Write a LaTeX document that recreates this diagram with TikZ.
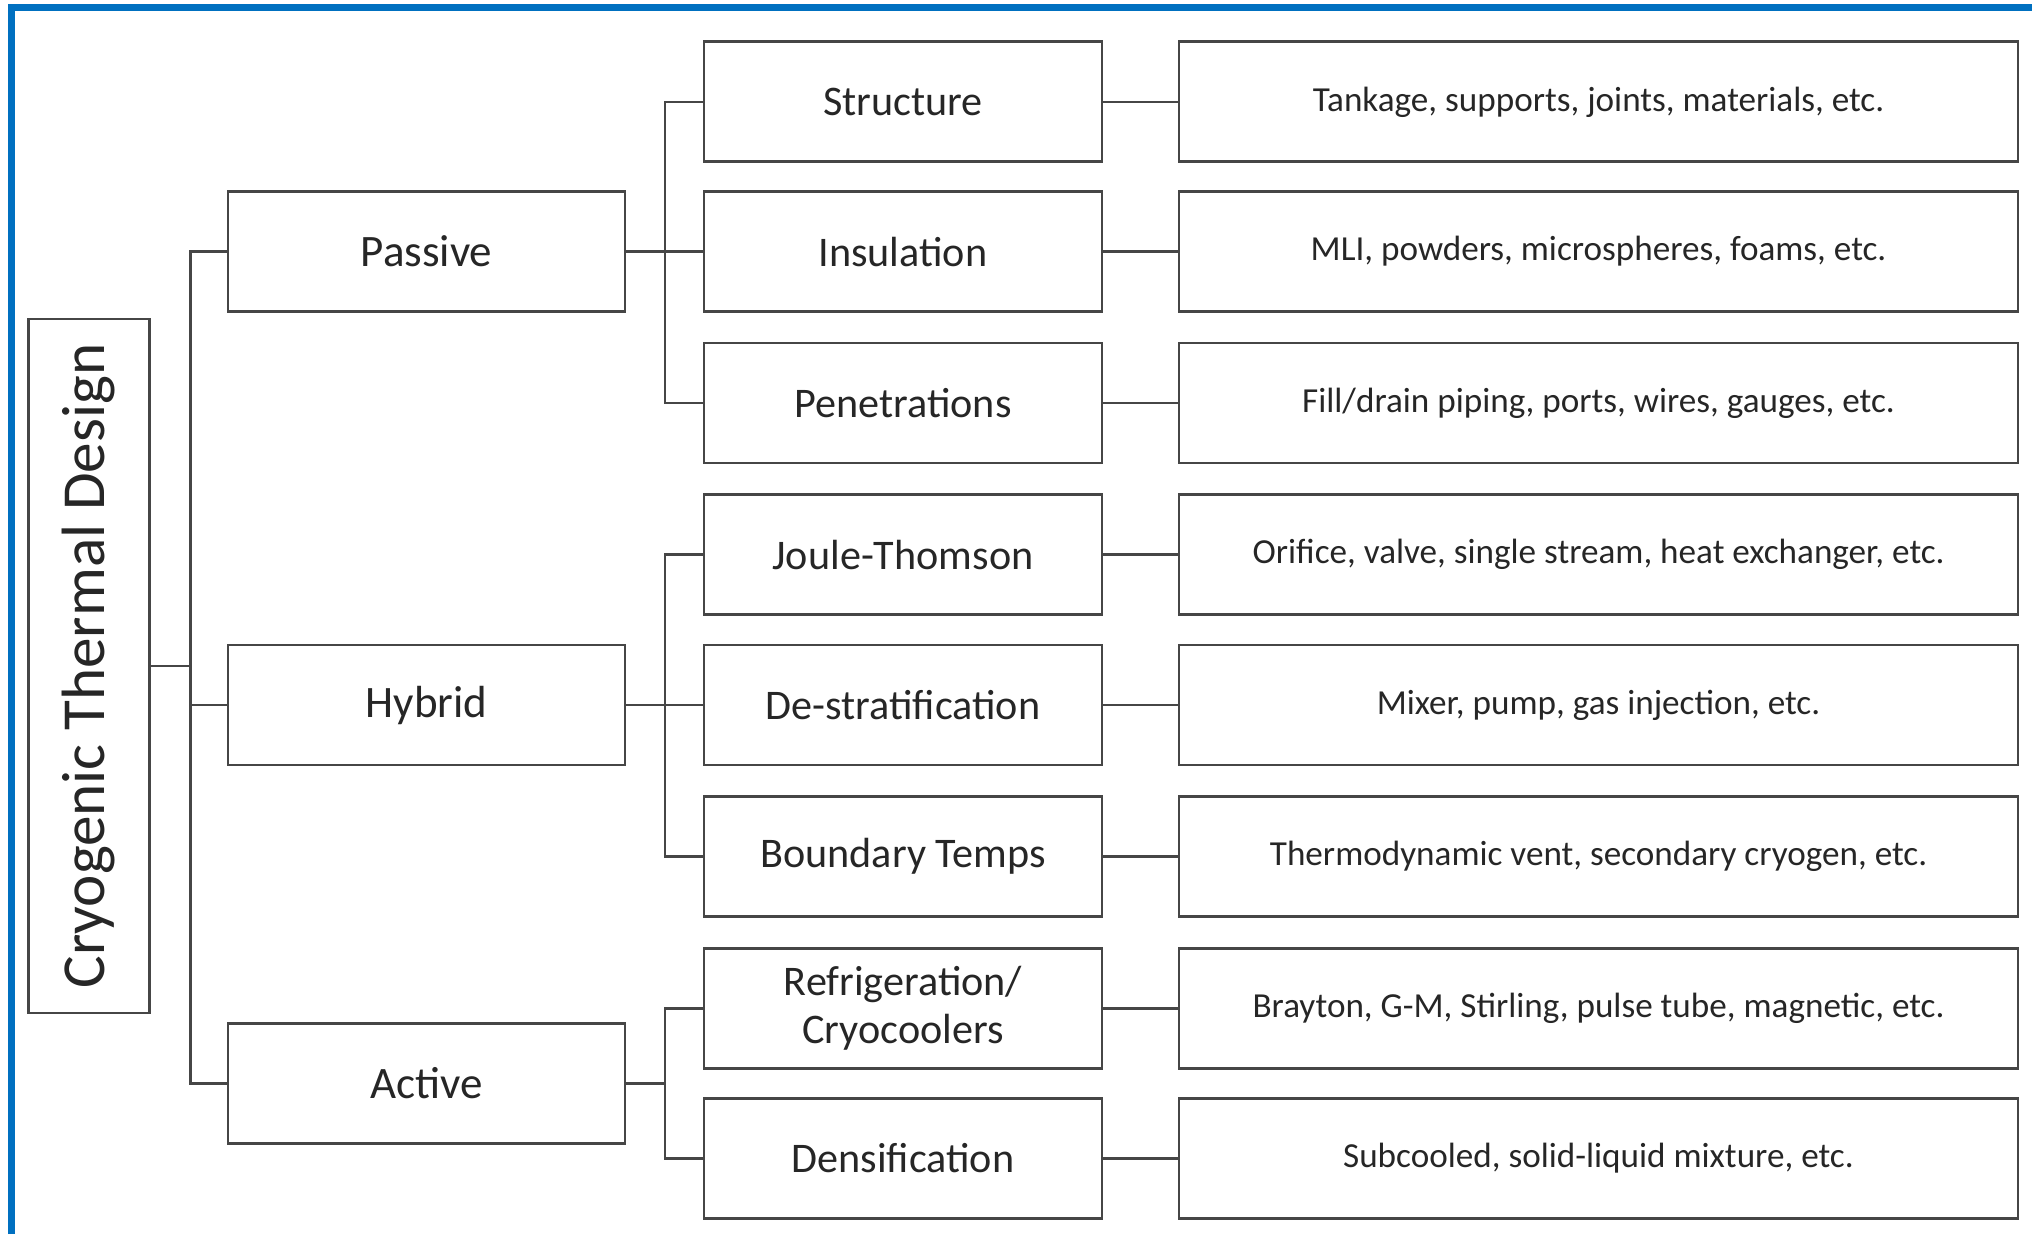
\documentclass[tikz,border=0pt]{standalone}
\usepackage{fontspec}
\setmainfont{Carlito}
\usepackage{tikz}
\definecolor{frameblue}{RGB}{0,112,192}
\definecolor{boxline}{RGB}{70,70,70}
\tikzset{
  box/.style={draw=boxline, line width=0.8pt, text=black!85, inner sep=0pt, minimum height=1.2cm},
  rootbox/.style={box, rotate=90, minimum width=6.94cm, minimum height=1.205cm, font=\fontsize{17.4}{20}\selectfont},
  catbox/.style={box, minimum width=3.97cm, font=\fontsize{12.8}{15}\selectfont},
  subbox/.style={box, minimum width=3.98cm, align=center, font=\fontsize{12}{13.6}\selectfont},
  leafbox/.style={box, minimum width=8.39cm, font=\fontsize{10}{12}\selectfont},
  link/.style={draw=boxline, line width=0.6pt}
}

\begin{document}
\begin{tikzpicture}
  \useasboundingbox (0,0) rectangle (20.32,-12.34);
  % frame
  \draw[frameblue, line width=2pt] (0.115,-12.34) -- (0.115,-0.075) -- (20.32,-0.075);

  % root and categories
  \node[rootbox] (root) at (0.89,-6.66) {Cryogenic Thermal Design};
  \node[catbox] (pas) at (4.265,-2.515) {Passive};
  \node[catbox] (hyb) at (4.265,-7.05) {Hybrid};
  \node[catbox] (act) at (4.265,-10.835) {Active};

  % sub-categories
  \node[subbox] (str) at (9.03,-1.018) {Structure};
  \node[subbox] (ins) at (9.03,-2.515) {Insulation};
  \node[subbox] (pen) at (9.03,-4.03) {Penetrations};
  \node[subbox] (jt)  at (9.03,-5.545) {Joule-Thomson};
  \node[subbox] (des) at (9.03,-7.05) {De-stratification};
  \node[subbox] (bnd) at (9.03,-8.565) {Boundary Temps};
  \node[subbox] (ref) at (9.03,-10.085) {Refrigeration/\\Cryocoolers};
  \node[subbox] (den) at (9.03,-11.585) {Densification};

  % examples
  \node[leafbox] (tank) at (15.985,-1.018) {Tankage, supports, joints, materials, etc.};
  \node[leafbox] (mli)  at (15.985,-2.515) {MLI, powders, microspheres, foams, etc.};
  \node[leafbox] (fill) at (15.985,-4.03) {Fill/drain piping, ports, wires, gauges, etc.};
  \node[leafbox] (orif) at (15.985,-5.545) {Orifice, valve, single stream, heat exchanger, etc.};
  \node[leafbox] (mix)  at (15.985,-7.05) {Mixer, pump, gas injection, etc.};
  \node[leafbox] (vent) at (15.985,-8.565) {Thermodynamic vent, secondary cryogen, etc.};
  \node[leafbox] (bray) at (15.985,-10.085) {Brayton, G-M, Stirling, pulse tube, magnetic, etc.};
  \node[leafbox] (sub)  at (15.985,-11.585) {Subcooled, solid-liquid mixture, etc.};

  % branch points
  \coordinate (t)  at (1.905,-6.66);
  \coordinate (bp) at (6.65,-2.515);
  \coordinate (bh) at (6.65,-7.05);
  \coordinate (ba) at (6.65,-10.835);

  \draw[link] (root.south) -- (t);
  \draw[link] (pas.west) -| (t) |- (act.west);
  \draw[link] (hyb.west) -- (hyb.west -| t);

  \draw[link] (pas.east) -- (bp);
  \draw[link] (str.west) -| (bp) |- (pen.west);
  \draw[link] (ins.west) -- (bp);
  \draw[link] (hyb.east) -- (bh);
  \draw[link] (jt.west) -| (bh) |- (bnd.west);
  \draw[link] (des.west) -- (bh);
  \draw[link] (act.east) -- (ba);
  \draw[link] (ref.west) -| (ba) |- (den.west);

  \path[link]
    (str) edge (tank)
    (ins) edge (mli)
    (pen) edge (fill)
    (jt)  edge (orif)
    (des) edge (mix)
    (bnd) edge (vent)
    (ref) edge (bray)
    (den) edge (sub);
\end{tikzpicture}
\end{document}
